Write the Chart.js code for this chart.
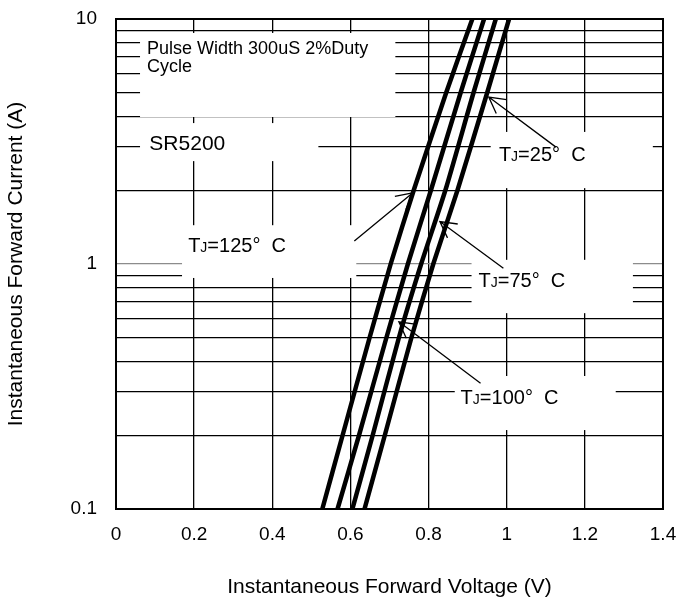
<!DOCTYPE html>
<html>
<head>
<meta charset="utf-8">
<script src="https://cdn.jsdelivr.net/npm/chart.js@4/dist/chart.umd.min.js"></script>
<style>
  html, body { margin: 0; padding: 0; background: #fff; }
  #wrap { width: 681px; height: 603px; }
</style>
</head>
<body>
<div id="wrap"><canvas id="ivChart" width="681" height="603"></canvas></div>
<script>
// forward current (A), shared by every curve
let current = [0.1, 0.2, 0.5, 1, 2, 5, 10];
// forward voltage (V)
let vf125 = [0.528, 0.580, 0.649, 0.703, 0.762, 0.845, 0.912];
let vf100 = [0.567, 0.622, 0.692, 0.747, 0.806, 0.882, 0.942];
let vf75  = [0.605, 0.657, 0.724, 0.781, 0.843, 0.915, 0.972];
let vf25  = [0.636, 0.688, 0.756, 0.812, 0.874, 0.950, 1.006];

let xTicks = [0, 0.2, 0.4, 0.6, 0.8, 1, 1.2, 1.4];
let xLabels = ['0', '0.2', '0.4', '0.6', '0.8', '1', '1.2', '1.4'];
let yTicks = [0.1, 0.2, 0.3, 0.4, 0.5, 0.6, 0.7, 0.8, 0.9,
              1, 2, 3, 4, 5, 6, 7, 8, 9, 10];
let yLabels = ['0.1', '1', '10'];

const FONT = 'Liberation Sans, Arial, Helvetica, sans-serif';

// notes on the plot (in V / A), white boxes hide the grid behind them
let noteBoxes = [
    [0.0615, 0.715, 3.98, 8.77],   // pulse width
    [0.0615, 0.518, 2.63, 3.76],   // SR5200
    [0.959, 1.374, 2.04, 3.46],    // TJ=25
    [0.169, 0.615, 0.877, 1.44],   // TJ=125
    [0.910, 1.323, 0.63, 1.04],    // TJ=75
    [0.867, 1.279, 0.21, 0.349]    // TJ=100
];
let tjNotes = [
    { temp: '25', at: [0.980, 2.64] },
    { temp: '125', at: [0.1846, 1.122] },
    { temp: '75', at: [0.928, 0.808] },
    { temp: '100', at: [0.882, 0.268] }
];
let arrows = [
    { from: [1.126, 3.0], to: [0.954, 4.8] },
    { from: [0.610, 1.24], to: [0.759, 1.95] },
    { from: [0.9915, 0.96], to: [0.829, 1.49] },
    { from: [0.933, 0.326], to: [0.724, 0.581] }
];

function toPx(chart, p) {
    return [chart.scales.x.getPixelForValue(p[0]), chart.scales.y.getPixelForValue(p[1])];
}

function drawTj(ctx, x, y, temp) {
    ctx.font = '20px ' + FONT;
    ctx.fillText('T', x, y);
    x += ctx.measureText('T').width;
    ctx.font = '14px ' + FONT;
    ctx.fillText('J', x, y);
    x += ctx.measureText('J').width;
    ctx.font = '20px ' + FONT;
    ctx.fillText('=' + temp + '°  C', x, y);
}

const notesPlugin = {
    id: 'notes',
    beforeDatasetsDraw(chart) {
        const ctx = chart.ctx;
        const a = chart.chartArea;
        ctx.save();
        ctx.fillStyle = '#fff';
        noteBoxes.forEach(b => {
            const [x0, y0] = toPx(chart, [b[0], b[3]]);
            const [x1, y1] = toPx(chart, [b[1], b[2]]);
            ctx.fillRect(x0, y0, x1 - x0, y1 - y0);
        });
        // frame round the plot
        ctx.strokeStyle = '#000';
        ctx.lineWidth = 2;
        ctx.strokeRect(a.left, a.top, a.right - a.left, a.bottom - a.top);

        ctx.fillStyle = '#000';
        ctx.textBaseline = 'alphabetic';
        ctx.textAlign = 'left';
        let p = toPx(chart, [0.0795, 7.2]);
        ctx.font = '18px ' + FONT;
        ctx.fillText('Pulse Width 300uS 2%Duty', p[0], p[1]);
        ctx.fillText('Cycle', p[0], p[1] + 17.7);
        p = toPx(chart, [0.0854, 2.92]);
        ctx.font = '21px ' + FONT;
        ctx.fillText('SR5200', p[0], p[1]);
        tjNotes.forEach(n => {
            const q = toPx(chart, n.at);
            drawTj(ctx, q[0], q[1], n.temp);
        });
        ctx.restore();
    },
    afterDatasetsDraw(chart) {
        const ctx = chart.ctx;
        ctx.save();
        ctx.strokeStyle = '#000';
        ctx.lineWidth = 1.3;
        arrows.forEach(ar => {
            const [x0, y0] = toPx(chart, ar.from);
            const [x1, y1] = toPx(chart, ar.to);
            const ang = Math.atan2(y0 - y1, x0 - x1);
            const len = 18, spread = 0.5;
            ctx.beginPath();
            ctx.moveTo(x0, y0);
            ctx.lineTo(x1, y1);
            ctx.moveTo(x1 + len * Math.cos(ang - spread), y1 + len * Math.sin(ang - spread));
            ctx.lineTo(x1, y1);
            ctx.lineTo(x1 + len * Math.cos(ang + spread), y1 + len * Math.sin(ang + spread));
            ctx.stroke();
        });
        ctx.restore();
    }
};

function curve(vf) {
    return vf.map((v, i) => ({ x: v, y: current[i] }));
}

let ds = [vf125, vf100, vf75, vf25].map(vf => ({
    data: curve(vf),
    borderColor: '#000',
    borderWidth: 4.5,
    pointRadius: 0,
    tension: 0.2,
    fill: false
}));

// keep the plot box fixed: labels may overflow into the layout padding
function noLabelPadding(axis) {
    axis.paddingTop = 0;
    axis.paddingBottom = 0;
    axis.paddingLeft = 0;
    axis.paddingRight = 0;
}

let ivChart = new Chart(document.getElementById('ivChart').getContext('2d'), {
    type: 'line',
    data: { datasets: ds },
    plugins: [notesPlugin],
    options: {
        responsive: false,
        animation: false,
        layout: { padding: { top: 19, right: 18, bottom: 0, left: 0 } },
        plugins: { legend: { display: false }, tooltip: { enabled: false } },
        scales: {
            x: {
                type: 'linear',
                min: 0,
                max: 1.4,
                afterBuildTicks: axis => { axis.ticks = xTicks.map(v => ({ value: v })); },
                afterFit: axis => { axis.height = 94; noLabelPadding(axis); },
                ticks: {
                    callback: v => xLabels[xTicks.findIndex(t => Math.abs(t - v) < 1e-9)],
                    font: { size: 19, family: FONT },
                    color: '#000',
                    padding: 14,
                    maxRotation: 0,
                    autoSkip: false
                },
                grid: { color: '#000', lineWidth: 1.3, drawTicks: false },
                border: { color: '#000', width: 2 },
                title: {
                    display: true,
                    text: 'Instantaneous Forward Voltage (V)',
                    color: '#000',
                    font: { size: 21, family: FONT },
                    padding: { top: 0, bottom: 3 }
                }
            },
            y: {
                type: 'logarithmic',
                min: 0.1,
                max: 10,
                afterBuildTicks: axis => { axis.ticks = yTicks.map(v => ({ value: v })); },
                afterFit: axis => { axis.width = 116; noLabelPadding(axis); },
                ticks: {
                    callback: v => {
                        const s = String(v);
                        return yLabels.includes(s) ? s : '';
                    },
                    font: { size: 19, family: FONT },
                    color: '#000',
                    padding: 19,
                    autoSkip: false
                },
                grid: {
                    color: c => (c.tick && c.tick.value === 1 ? '#8c8c8c' : '#000'),
                    lineWidth: 1.3,
                    drawTicks: false
                },
                border: { color: '#000', width: 2 },
                title: {
                    display: true,
                    text: 'Instantaneous Forward Current (A)',
                    color: '#000',
                    font: { size: 21, family: FONT },
                    padding: { top: 4, bottom: 0 }
                }
            }
        }
    }
});
</script>
</body>
</html>
